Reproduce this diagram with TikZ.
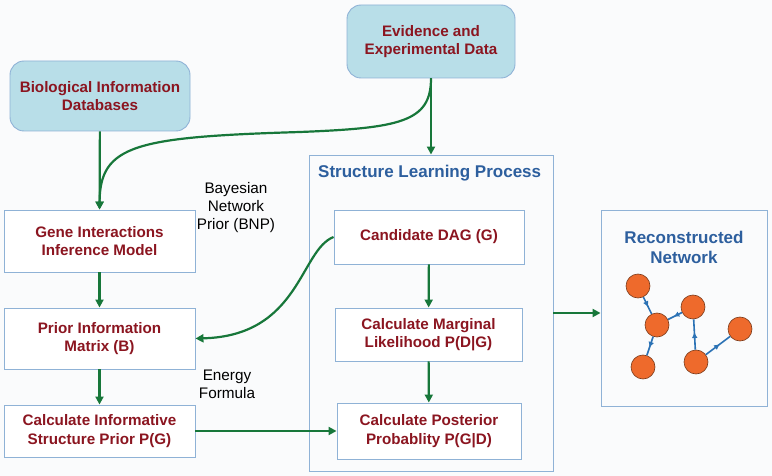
\documentclass[tikz,border=0pt]{standalone}
\usepackage{fontspec}
\setmainfont{Liberation Sans}
\usetikzlibrary{arrows.meta,decorations.markings}
\definecolor{boxline}{HTML}{8FB2D6}
\definecolor{boxfill}{HTML}{B8DEE8}
\definecolor{txtred}{HTML}{8B1520}
\definecolor{txtblue}{HTML}{2D5F9E}
\definecolor{arrgreen}{HTML}{17773A}
\definecolor{netblue}{HTML}{2B72B5}
\definecolor{netorange}{HTML}{EE6A2C}
\definecolor{netedge}{HTML}{7A3A1A}
\definecolor{bgc}{HTML}{FAFBFC}
\begin{document}
\begin{tikzpicture}[x=1pt,y=-1pt,
  box/.style={draw=boxline,line width=0.9pt,fill=white,align=center,inner sep=0pt,
    font=\fontsize{15.2}{18.5}\selectfont\bfseries,text=txtred},
  rbox/.style={box,fill=boxfill,rounded corners=14pt},
  frame/.style={draw=boxline,line width=0.9pt,fill=none,inner sep=0pt},
  ttl/.style={font=\fontsize{17}{20}\selectfont\bfseries,text=txtblue,align=center,inner sep=0pt},
  lbl/.style={font=\fontsize{15.3}{18.3}\selectfont,text=black,align=center,inner sep=0pt},
  flow/.style={draw=arrgreen,line width=2.2pt,-{Triangle[length=8pt,width=8pt]}},
  gnode/.style={circle,draw=netedge,line width=0.6pt,fill=netorange,minimum size=24pt,inner sep=0pt},
  gedge/.style={draw=netblue,line width=1.6pt,postaction={decorate},
    decoration={markings,mark=at position 0.55 with {\arrow{Triangle[length=5pt,width=5pt]}}}}
]
\fill[bgc] (0,0) rectangle (772,476);
\useasboundingbox (0,0) rectangle (772,476);

% outer frames
\node[frame,minimum width=244pt,minimum height=316pt] (outer) at (431,313) {};
\node[ttl,anchor=west] (outtitle) at (318,173) {Structure Learning Process};
\node[frame,minimum width=166pt,minimum height=196pt] (recon) at (684,308) {};
\node[ttl] (rectitle) at (684,247) {Reconstructed\\Network};

% top boxes
\node[rbox,minimum width=180pt,minimum height=70pt] (bio) at (100,96) {Biological Information\\Databases};
\node[rbox,minimum width=168pt,minimum height=73pt] (ev) at (431,41.5) {Evidence and\\Experimental Data};

% left column
\node[box,minimum width=191pt,minimum height=62pt] (gene) at (99.5,241) {Gene Interactions\\Inference Model};
\node[box,minimum width=191pt,minimum height=61pt] (prior) at (99.5,338.5) {Prior Information\\Matrix (B)};
\node[box,minimum width=191pt,minimum height=52pt] (cinf) at (99.5,431) {Calculate Informative\\Structure Prior P(G)};

% middle column
\node[box,minimum width=190pt,minimum height=54pt] (cand) at (429,237) {Candidate DAG (G)};
\node[box,minimum width=187pt,minimum height=53pt] (marg) at (428.5,334.5) {Calculate Marginal\\Likelihood P(D|G)};
\node[box,minimum width=184pt,minimum height=56pt] (post) at (429,431) {Calculate Posterior\\Probablity P(G|D)};

% labels
\node[lbl] (bnp) at (236,207.5) {Bayesian\\Network\\Prior (BNP)};
\node[lbl] (energy) at (227,384.5) {Energy\\Formula};

% arrows
\draw[flow] (bio) -- (gene);
\draw[flow] (ev) -- (outer);
\draw[flow] (ev.south) .. controls (431,122) and (400,128) .. (300,132)
  .. controls (135,137) and (100,145) .. (gene.north);
\draw[flow] (gene) -- (prior);
\draw[flow] (prior) -- (cinf);
\draw[flow] (cand.west) .. controls (300,250) and (300,336) .. (prior.east);
\draw[flow] (cinf.east) -- (post.west);
\draw[flow] (cand) -- (marg);
\draw[flow] (marg) -- (post);
\draw[flow] (outer.east) -- (outer.east -| recon.west);

% network
\node[gnode] (n1) at (638,286) {};
\node[gnode] (n2) at (657,325) {};
\node[gnode] (n3) at (693,307) {};
\node[gnode] (n4) at (643,367) {};
\node[gnode] (n5) at (696,362) {};
\node[gnode] (n6) at (740,329) {};
\draw[gedge] (n1) -- (n2);
\draw[gedge] (n3) -- (n2);
\draw[gedge] (n2) -- (n4);
\draw[gedge] (n5) -- (n3);
\draw[gedge] (n5) -- (n6);
\end{tikzpicture}
\end{document}
